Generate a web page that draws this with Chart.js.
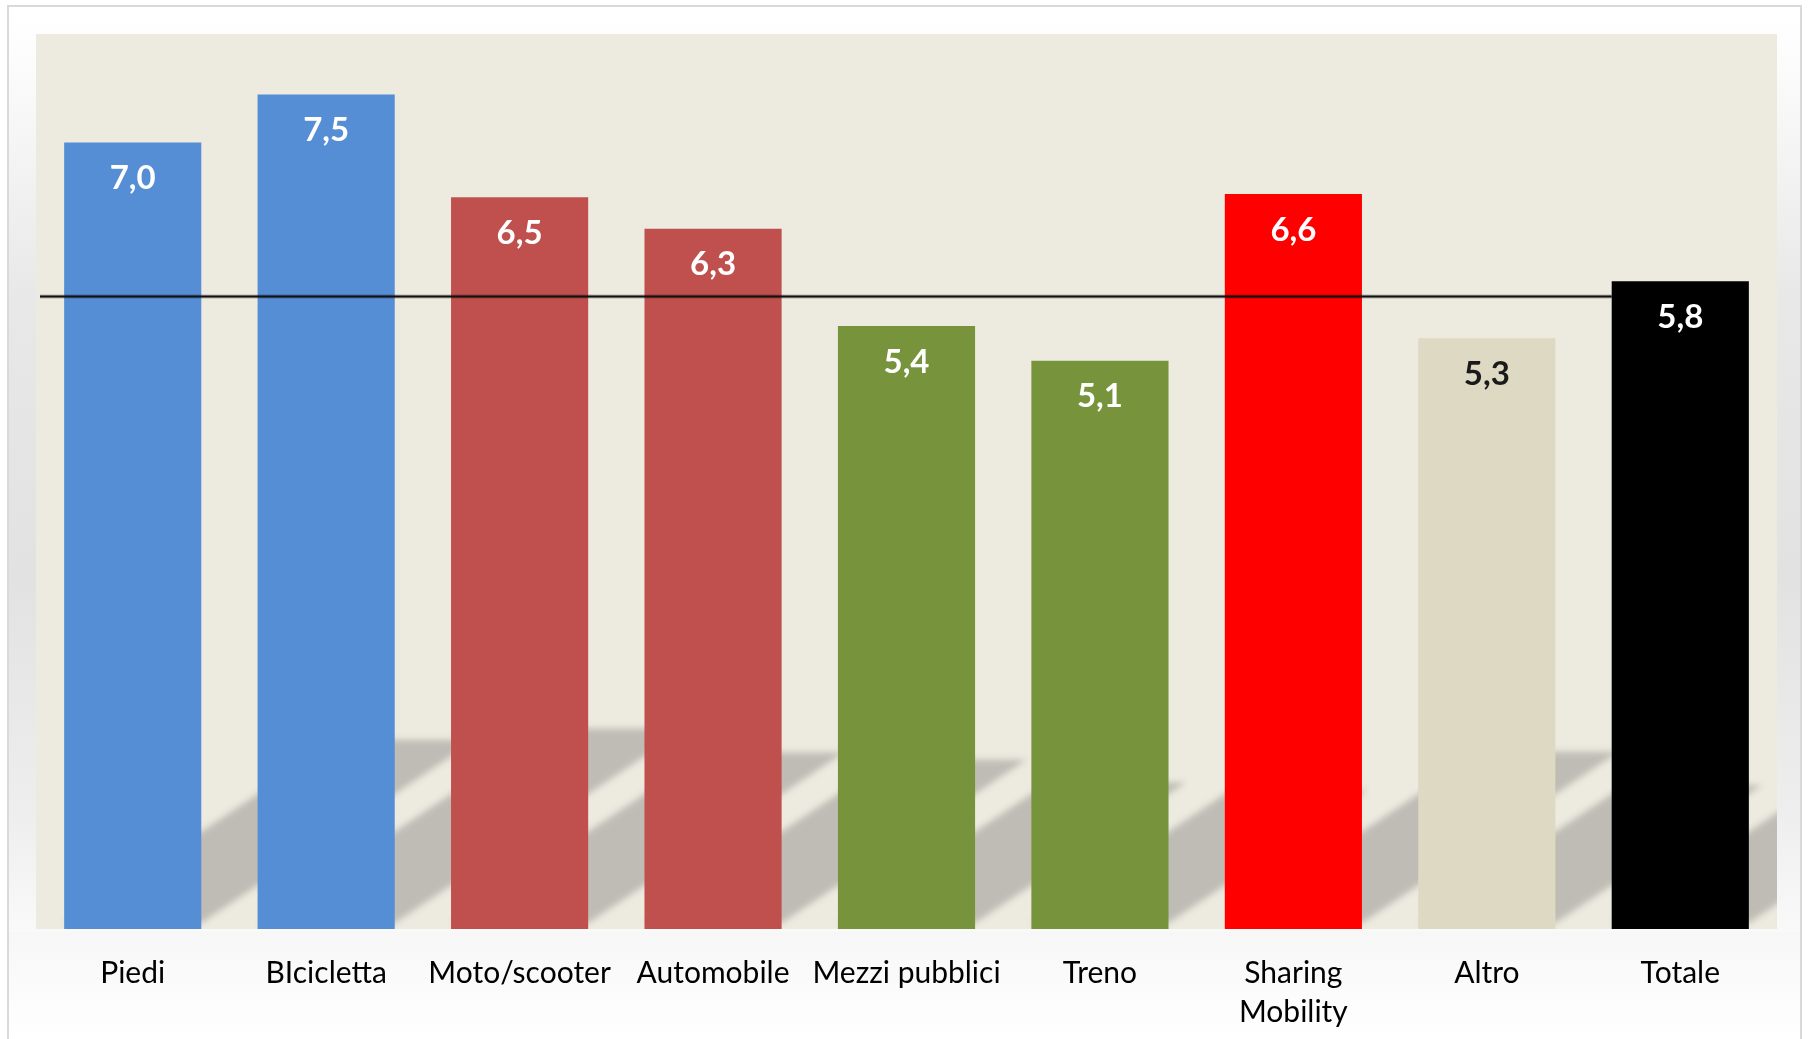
<!DOCTYPE html>
<html>
<head>
<meta charset="utf-8">
<script src="https://cdn.jsdelivr.net/npm/chart.js@4.4.1/dist/chart.umd.min.js"></script>
<style>
  html, body { margin: 0; padding: 0; background: #ffffff; overflow: hidden; }
  .card {
    position: absolute; left: 7px; top: 5px; width: 1795px; height: 1040px;
    border: 2px solid #d9d9d9; box-sizing: border-box;
    background: linear-gradient(to bottom, #ffffff 0%, #fdfdfd 4%, #e8e8e8 28%, #e2e2e2 55%, #eeeeee 78%, #fafafa 90%, #ffffff 100%);
  }
  .labels-bg {
    position: absolute; left: 9px; top: 932px; width: 1791px; height: 110px;
    background: linear-gradient(to bottom, #f7f7f7, #ffffff);
  }
  #chart { position: absolute; left: 0; top: 0; }
</style>
</head>
<body>
<div class="card"></div>
<div class="labels-bg"></div>
<canvas id="chart" width="1808" height="1057"></canvas>
<script>
const categories = [
    'Piedi',
    'BIcicletta',
    'Moto/scooter',
    'Automobile',
    'Mezzi pubblici',
    'Treno',
    ['Sharing', 'Mobility'],
    'Altro',
    'Totale'
];

const values = [7.03, 7.46, 6.54, 6.26, 5.39, 5.08, 6.57, 5.28, 5.79];

// horizontal reference line (ends at the Totale bar)
const refValue = 5.66;

const barColors = ['#558ED5', '#558ED5', '#C0504D', '#C0504D', '#77933C', '#77933C', '#FF0000', '#DDD9C3', '#000000'];
const labelColors = ['#fff', '#fff', '#fff', '#fff', '#fff', '#fff', '#fff', '#1a1a1a', '#fff'];

const plotBg = {
    id: 'plotBg',
    beforeDraw(chart) {
        const { ctx, chartArea: a } = chart;
        ctx.save();
        ctx.fillStyle = '#EDEBE0';
        ctx.fillRect(a.left, a.top, a.right - a.left, a.bottom - a.top);
        ctx.restore();
    }
};

// skewed "perspective" shadows behind the bars
const barShadows = {
    id: 'barShadows',
    beforeDatasetsDraw(chart) {
        const { ctx, chartArea: a } = chart;
        const bars = chart.getDatasetMeta(0).data;
        ctx.save();
        ctx.beginPath();
        ctx.rect(a.left, a.top, a.right - a.left, a.bottom - a.top);
        ctx.clip();
        ctx.filter = 'blur(3px)';
        ctx.fillStyle = '#BFBCB5';
        bars.forEach(b => {
            const x0 = b.x - b.width / 2, x1 = b.x + b.width / 2;
            const base = b.base - 6;
            const H = (b.base - b.y) * 0.233;
            const k = 1.5;
            ctx.beginPath();
            ctx.moveTo(x0, base);
            ctx.lineTo(x1, base);
            ctx.lineTo(x1 + k * H, base - H);
            ctx.lineTo(x0 + k * H, base - H);
            ctx.closePath();
            ctx.fill();
        });
        ctx.restore();
    }
};

const refLine = {
    id: 'refLine',
    afterDatasetsDraw(chart) {
        const { ctx, chartArea: a, scales } = chart;
        const bars = chart.getDatasetMeta(0).data;
        const last = bars[bars.length - 1];
        const y = Math.round(scales.y.getPixelForValue(refValue)) + 0.5;
        ctx.save();
        ctx.strokeStyle = 'rgba(0,0,0,0.25)';
        ctx.lineWidth = 4;
        ctx.beginPath();
        ctx.moveTo(a.left + 4, y);
        ctx.lineTo(last.x - last.width / 2, y);
        ctx.stroke();
        ctx.strokeStyle = '#111';
        ctx.lineWidth = 2;
        ctx.beginPath();
        ctx.moveTo(a.left + 4, y);
        ctx.lineTo(last.x - last.width / 2, y);
        ctx.stroke();
        ctx.restore();
    }
};

const valueLabels = {
    id: 'valueLabels',
    afterDatasetsDraw(chart) {
        const { ctx } = chart;
        const bars = chart.getDatasetMeta(0).data;
        ctx.save();
        ctx.font = 'bold 33px Lato';
        ctx.textAlign = 'center';
        ctx.textBaseline = 'middle';
        bars.forEach((b, i) => {
            ctx.fillStyle = labelColors[i];
            ctx.fillText(values[i].toFixed(1).replace('.', ','), b.x, b.y + 36);
        });
        ctx.restore();
    }
};

new Chart(document.getElementById('chart'), {
    type: 'bar',
    data: {
        labels: categories,
        datasets: [{
            data: values,
            backgroundColor: barColors,
            borderWidth: 0,
            categoryPercentage: 1,
            barPercentage: 0.709
        }]
    },
    options: {
        responsive: false,
        animation: false,
        layout: { padding: { left: 36, right: 31, top: 34, bottom: 0 } },
        plugins: {
            legend: { display: false },
            tooltip: { enabled: false }
        },
        scales: {
            x: {
                grid: { display: false, drawTicks: false },
                border: { display: false },
                ticks: {
                    color: '#000',
                    padding: 25,
                    maxRotation: 0,
                    autoSkip: false,
                    font: { family: 'Lato', size: 30, lineHeight: 1.3 }
                }
            },
            y: {
                display: false,
                min: 0,
                max: 8
            }
        }
    },
    plugins: [plotBg, barShadows, refLine, valueLabels]
});
</script>
</body>
</html>
